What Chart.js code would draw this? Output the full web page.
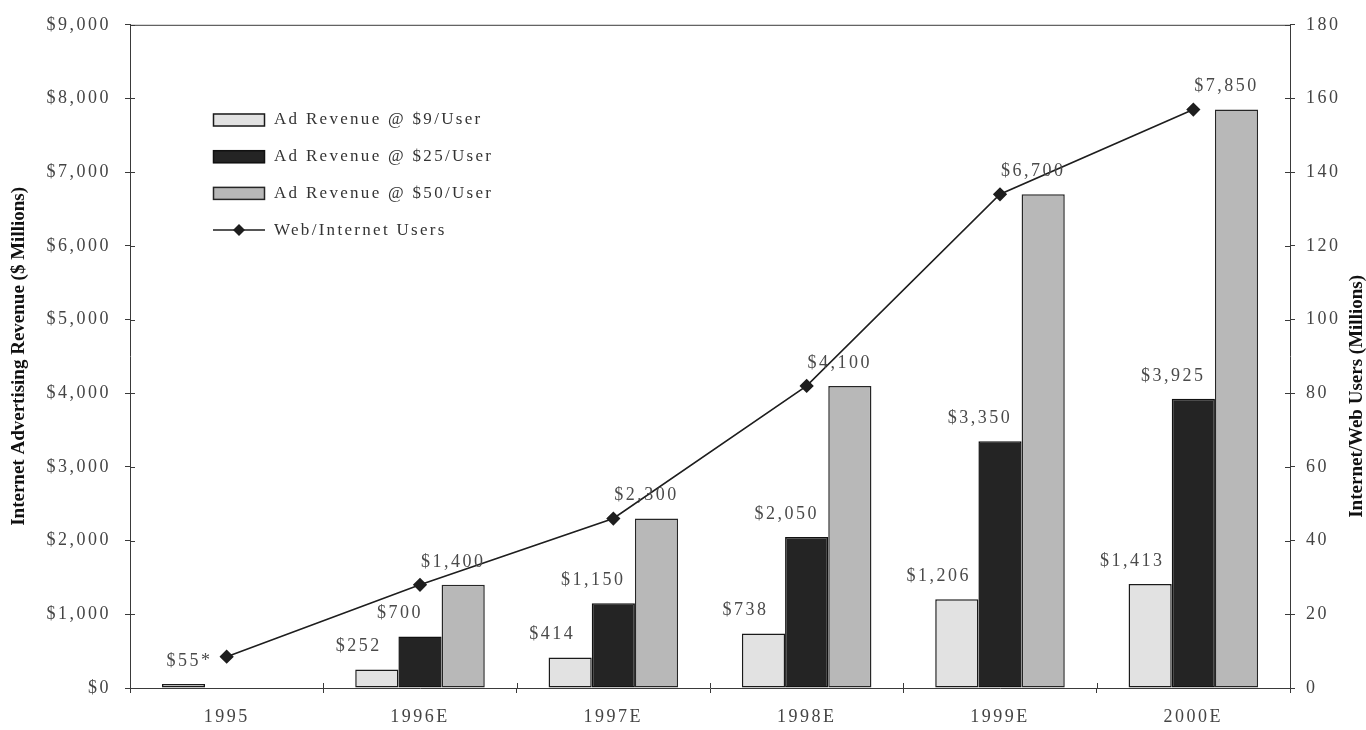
<!DOCTYPE html>
<html>
<head>
<meta charset="utf-8">
<script src="https://cdn.jsdelivr.net/npm/chart.js@4.4.1/dist/chart.umd.min.js"></script>
<style>
  html, body { margin: 0; padding: 0; background: #ffffff; }
  #wrap { width: 1366px; height: 730px; }
</style>
</head>
<body>
<div id="wrap"><canvas id="c" width="1366" height="730"></canvas></div>
<script>
// Years on the category axis
const years = ['1995', '1996E', '1997E', '1998E', '1999E', '2000E'];

// Internet advertising revenue ($ millions) at three revenue-per-user rates
const revenueAt9 = [55, 252, 414, 738, 1206, 1413];
const revenueAt25 = [null, 700, 1150, 2050, 3350, 3925];
const revenueAt50 = [null, 1400, 2300, 4100, 6700, 7850];
const revenueNotes = ['*', '', '', '', '', ''];

// Web/Internet users (millions), right axis
const webUsers = [8.5, 28, 46, 82, 134, 157];

// Axis ranges
const revenueTickStep = 1000;
const revenueMax = 9000;
const userTickStep = 20;
const userMax = 180;

const seriesNames = ['Ad Revenue @ $9/User', 'Ad Revenue @ $25/User', 'Ad Revenue @ $50/User', 'Web/Internet Users'];
const leftTitle = 'Internet Advertising Revenue ($ Millions)';
const rightTitle = 'Internet/Web Users (Millions)';

const SERIF = '"Liberation Serif", "Times New Roman", serif';
const AXIS_COLOR = '#3a3a3a';

function money(v) {
  return '$' + v.toLocaleString('en-US');
}

// Spaced-out lettering for all canvas text
const spacingPlugin = {
  id: 'spacing',
  beforeDraw(chart) { chart.ctx.letterSpacing = '2.5px'; }
};

// Frame, cross ticks, value labels, legend and rotated axis titles
const decorPlugin = {
  id: 'decor',
  afterDatasetsDraw(chart) {
    const ctx = chart.ctx;
    const offsets = [-18, -20, -10];
    ctx.save();
    ctx.letterSpacing = '2.5px';
    ctx.font = '18px ' + SERIF;
    ctx.fillStyle = '#4a4a4a';
    ctx.textAlign = 'center';
    ctx.textBaseline = 'middle';
    [1, 2, 3].forEach((di, k) => {
      const meta = chart.getDatasetMeta(di);
      const data = chart.data.datasets[di].data;
      meta.data.forEach((bar, i) => {
        const v = data[i];
        if (v === null || v === undefined) return;
        const note = di === 1 ? revenueNotes[i] : '';
        const dx = (di === 1 && i === 0) ? 6 : offsets[k];
        ctx.fillText(money(v) + note, bar.x + dx, bar.y - 23);
      });
    });
    ctx.restore();
  },
  afterDraw(chart) {
    const ctx = chart.ctx;
    const a = chart.chartArea;
    ctx.save();
    ctx.letterSpacing = '0px';
    ctx.strokeStyle = AXIS_COLOR;
    ctx.lineWidth = 1;
    // top border of the plot frame
    ctx.beginPath();
    ctx.moveTo(a.left, a.top + 0.5);
    ctx.lineTo(a.right, a.top + 0.5);
    ctx.stroke();
    // inner halves of the tick marks
    ctx.beginPath();
    const yl = chart.scales.y, yr = chart.scales.y1;
    yl.ticks.forEach(t => {
      const p = Math.round(yl.getPixelForValue(t.value)) + 0.5;
      ctx.moveTo(a.left, p); ctx.lineTo(a.left + 5, p);
    });
    yr.ticks.forEach(t => {
      const p = Math.round(yr.getPixelForValue(t.value)) + 0.5;
      ctx.moveTo(a.right, p); ctx.lineTo(a.right - 5, p);
    });
    const w = (a.right - a.left) / years.length;
    for (let i = 1; i < years.length; i++) {
      const p = Math.round(a.left + i * w) + 0.5;
      ctx.moveTo(p, a.bottom); ctx.lineTo(p, a.bottom - 5);
    }
    ctx.stroke();

    // legend
    const lx = 213, ly = 120, gap = 36.7, bw = 52, bh = 13;
    ctx.font = '17px ' + SERIF;
    ctx.textBaseline = 'middle';
    ctx.textAlign = 'left';
    const ds = chart.data.datasets;
    const order = [1, 2, 3, 0];
    order.forEach((di, r) => {
      const y = ly + r * gap;
      const d = ds[di];
      if (d.type === 'line') {
        ctx.strokeStyle = d.borderColor;
        ctx.lineWidth = 1.5;
        ctx.beginPath();
        ctx.moveTo(lx, y); ctx.lineTo(lx + bw, y);
        ctx.stroke();
        ctx.fillStyle = d.pointBackgroundColor;
        ctx.beginPath();
        ctx.moveTo(lx + bw / 2, y - 6);
        ctx.lineTo(lx + bw / 2 + 6, y);
        ctx.lineTo(lx + bw / 2, y + 6);
        ctx.lineTo(lx + bw / 2 - 6, y);
        ctx.closePath();
        ctx.fill();
      } else {
        ctx.fillStyle = d.backgroundColor;
        ctx.fillRect(lx, y - bh / 2, bw, bh);
        ctx.strokeStyle = d.borderColor;
        ctx.lineWidth = 1.5;
        ctx.strokeRect(lx + 0.5, y - bh / 2 + 0.5, bw - 1, bh - 1);
      }
      ctx.fillStyle = '#333333';
      ctx.letterSpacing = '2.3px';
      ctx.fillText(d.label, lx + bw + 9, y);
      ctx.letterSpacing = '0px';
    });

    // rotated axis titles
    const mid = (a.top + a.bottom) / 2;
    ctx.fillStyle = '#111111';
    ctx.font = 'bold 19px ' + SERIF;
    ctx.textAlign = 'center';
    ctx.textBaseline = 'middle';
    ctx.save();
    ctx.translate(19, mid);
    ctx.rotate(-Math.PI / 2);
    ctx.fillText(leftTitle, 0, 0);
    ctx.restore();
    ctx.save();
    ctx.translate(1357, mid + 40);
    ctx.rotate(-Math.PI / 2);
    ctx.fillText(rightTitle, 0, 0);
    ctx.restore();
    ctx.restore();
  }
};

const tickFont = { family: SERIF, size: 18 };

new Chart(document.getElementById('c'), {
  data: {
    labels: years,
    datasets: [
      {
        type: 'line',
        label: seriesNames[3],
        data: webUsers,
        yAxisID: 'y1',
        borderColor: '#1e1e1e',
        borderWidth: 1.6,
        pointStyle: 'rectRot',
        pointRadius: 6,
        pointBackgroundColor: '#1e1e1e',
        pointBorderColor: '#1e1e1e',
        tension: 0,
        order: 0
      },
      {
        type: 'bar',
        label: seriesNames[0],
        data: revenueAt9,
        yAxisID: 'y',
        backgroundColor: '#e2e2e2',
        borderColor: '#1a1a1a',
        borderWidth: 1.5,
        borderSkipped: false,
        order: 1
      },
      {
        type: 'bar',
        label: seriesNames[1],
        data: revenueAt25,
        yAxisID: 'y',
        backgroundColor: '#242424',
        borderColor: '#111111',
        borderWidth: 1.5,
        borderSkipped: false,
        order: 1
      },
      {
        type: 'bar',
        label: seriesNames[2],
        data: revenueAt50,
        yAxisID: 'y',
        backgroundColor: '#b8b8b8',
        borderColor: '#262626',
        borderWidth: 1.5,
        borderSkipped: false,
        order: 1
      }
    ]
  },
  options: {
    responsive: false,
    animation: false,
    devicePixelRatio: 1,
    layout: { padding: { top: 22, left: 0, right: 0, bottom: 0 } },
    datasets: { bar: { categoryPercentage: 0.67, barPercentage: 1.0 } },
    plugins: {
      legend: { display: false },
      tooltip: { enabled: false },
      title: { display: false }
    },
    scales: {
      x: {
        type: 'category',
        offset: true,
        grid: { display: true, drawOnChartArea: false, offset: true, drawTicks: true, tickLength: 5, color: AXIS_COLOR },
        border: { display: true, color: AXIS_COLOR, width: 1 },
        ticks: { font: tickFont, color: '#444444', padding: 13, maxRotation: 0, autoSkip: false },
        afterFit(s) { s.height = 42; }
      },
      y: {
        type: 'linear',
        position: 'left',
        min: 0,
        max: revenueMax,
        grid: { display: true, drawOnChartArea: false, drawTicks: true, tickLength: 5, color: AXIS_COLOR },
        border: { display: true, color: AXIS_COLOR, width: 1 },
        ticks: {
          stepSize: revenueTickStep,
          font: tickFont,
          color: '#444444',
          padding: 14,
          callback: v => money(v)
        },
        afterFit(s) { s.width = 130; }
      },
      y1: {
        type: 'linear',
        position: 'right',
        min: 0,
        max: userMax,
        grid: { display: true, drawOnChartArea: false, drawTicks: true, tickLength: 5, color: AXIS_COLOR },
        border: { display: true, color: AXIS_COLOR, width: 1 },
        ticks: {
          stepSize: userTickStep,
          font: tickFont,
          color: '#444444',
          padding: 11
        },
        afterFit(s) { s.width = 76; }
      }
    }
  },
  plugins: [spacingPlugin, decorPlugin]
});
</script>
</body>
</html>
